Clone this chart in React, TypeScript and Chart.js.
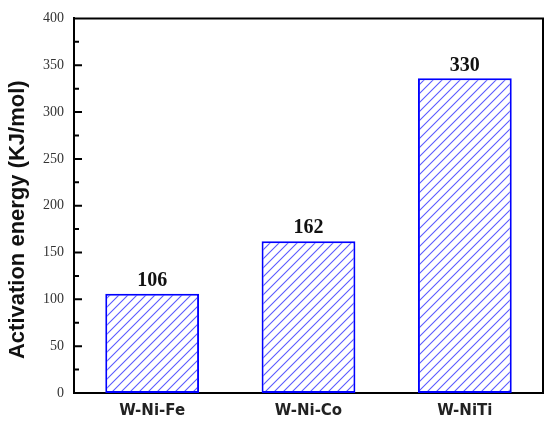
import React, { useEffect, useRef } from "react";
import { Chart, registerables } from "chart.js";

Chart.register(...registerables);

const categories = ["W-Ni-Fe", "W-Ni-Co", "W-NiTi"];
const barValues = [106, 162, 336];
const valueLabels = ["106", "162", "330"];
const yTitle = "Activation energy (KJ/mol)";
const yMajorTicks = [0, 50, 100, 150, 200, 250, 300, 350, 400];
const yMinorTicks = [25, 75, 125, 175, 225, 275, 325, 375];

function makeHatch(): CanvasPattern | string {
  const s = 9;
  const c = document.createElement("canvas");
  c.width = s;
  c.height = s;
  const g = c.getContext("2d");
  if (!g) return "#fff";
  g.fillStyle = "#ffffff";
  g.fillRect(0, 0, s, s);
  g.strokeStyle = "#5a5aff";
  g.lineWidth = 1.1;
  g.beginPath();
  g.moveTo(0, s);
  g.lineTo(s, 0);
  g.moveTo(-s / 2, s / 2);
  g.lineTo(s / 2, -s / 2);
  g.moveTo(s / 2, s + s / 2);
  g.lineTo(s + s / 2, s / 2);
  g.stroke();
  const p = g.createPattern(c, "repeat");
  return p || "#fff";
}

const framePlugin = {
  id: "frameTicks",
  afterDraw(chart: any) {
    const { ctx, chartArea } = chart;
    const y = chart.scales.y;
    ctx.save();
    ctx.strokeStyle = "#000";
    ctx.lineWidth = 2;
    ctx.beginPath();
    ctx.moveTo(chartArea.left, chartArea.top);
    ctx.lineTo(chartArea.right, chartArea.top);
    ctx.lineTo(chartArea.right, chartArea.bottom);
    ctx.stroke();
    ctx.beginPath();
    yMajorTicks.forEach((v) => {
      const py = y.getPixelForValue(v);
      if (v === 0 || v === 400) return;
      ctx.moveTo(chartArea.left, py);
      ctx.lineTo(chartArea.left + 8, py);
    });
    yMinorTicks.forEach((v) => {
      const py = y.getPixelForValue(v);
      ctx.moveTo(chartArea.left, py);
      ctx.lineTo(chartArea.left + 5, py);
    });
    ctx.stroke();
    // value labels
    const meta = chart.getDatasetMeta(0);
    ctx.fillStyle = "#111";
    ctx.font = "bold 20px 'Liberation Serif'";
    ctx.textAlign = "center";
    ctx.textBaseline = "bottom";
    meta.data.forEach((bar: any, i: number) => {
      ctx.fillText(valueLabels[i], bar.x, bar.y - 3);
    });
    // y axis title (shifted slightly below centre as in the reference)
    ctx.translate(18, (chartArea.top + chartArea.bottom) / 2 + 14);
    ctx.rotate(-Math.PI / 2);
    ctx.font = "bold 22px 'Liberation Sans'";
    ctx.textBaseline = "middle";
    ctx.fillText(yTitle, 0, 0);
    ctx.restore();
  },
};

export default function App() {
  const ref = useRef<HTMLCanvasElement>(null);
  useEffect(() => {
    document.body.style.margin = "0";
    if (!ref.current) return;
    const chart = new Chart(ref.current, {
      type: "bar",
      data: {
        labels: categories,
        datasets: [
          {
            data: barValues,
            backgroundColor: makeHatch() as any,
            borderColor: "#0000ff",
            borderWidth: 2,
            borderSkipped: false,
            categoryPercentage: 1,
            barPercentage: 0.6,
          },
        ],
      },
      options: {
        animation: false,
        responsive: false,
        layout: { padding: { top: 15, right: 7, left: 0, bottom: 0 } },
        plugins: { legend: { display: false }, tooltip: { enabled: false } },
        scales: {
          x: {
            grid: { display: false, drawTicks: false },
            border: { display: true, color: "#000", width: 2 },
            ticks: {
              padding: 9,
              color: "#222",
              font: { family: "'DejaVu Sans'", weight: "bold", size: 15 },
            },
            afterFit: (s: any) => {
              s.height = 33;
            },
          },
          y: {
            min: 0,
            max: 400,
            grid: { display: false, drawTicks: false },
            border: { display: true, color: "#000", width: 2 },
            ticks: {
              stepSize: 50,
              padding: 10,
              color: "#333",
              font: { family: "'Liberation Serif'", size: 14 },
            },
            title: { display: false, text: yTitle },
            afterFit: (s: any) => {
              s.width = 74;
            },
          },
        },
      },
      plugins: [framePlugin],
    });
    return () => chart.destroy();
  }, []);
  return <canvas ref={ref} width={550} height={426} style={{ display: "block" }} />;
}
